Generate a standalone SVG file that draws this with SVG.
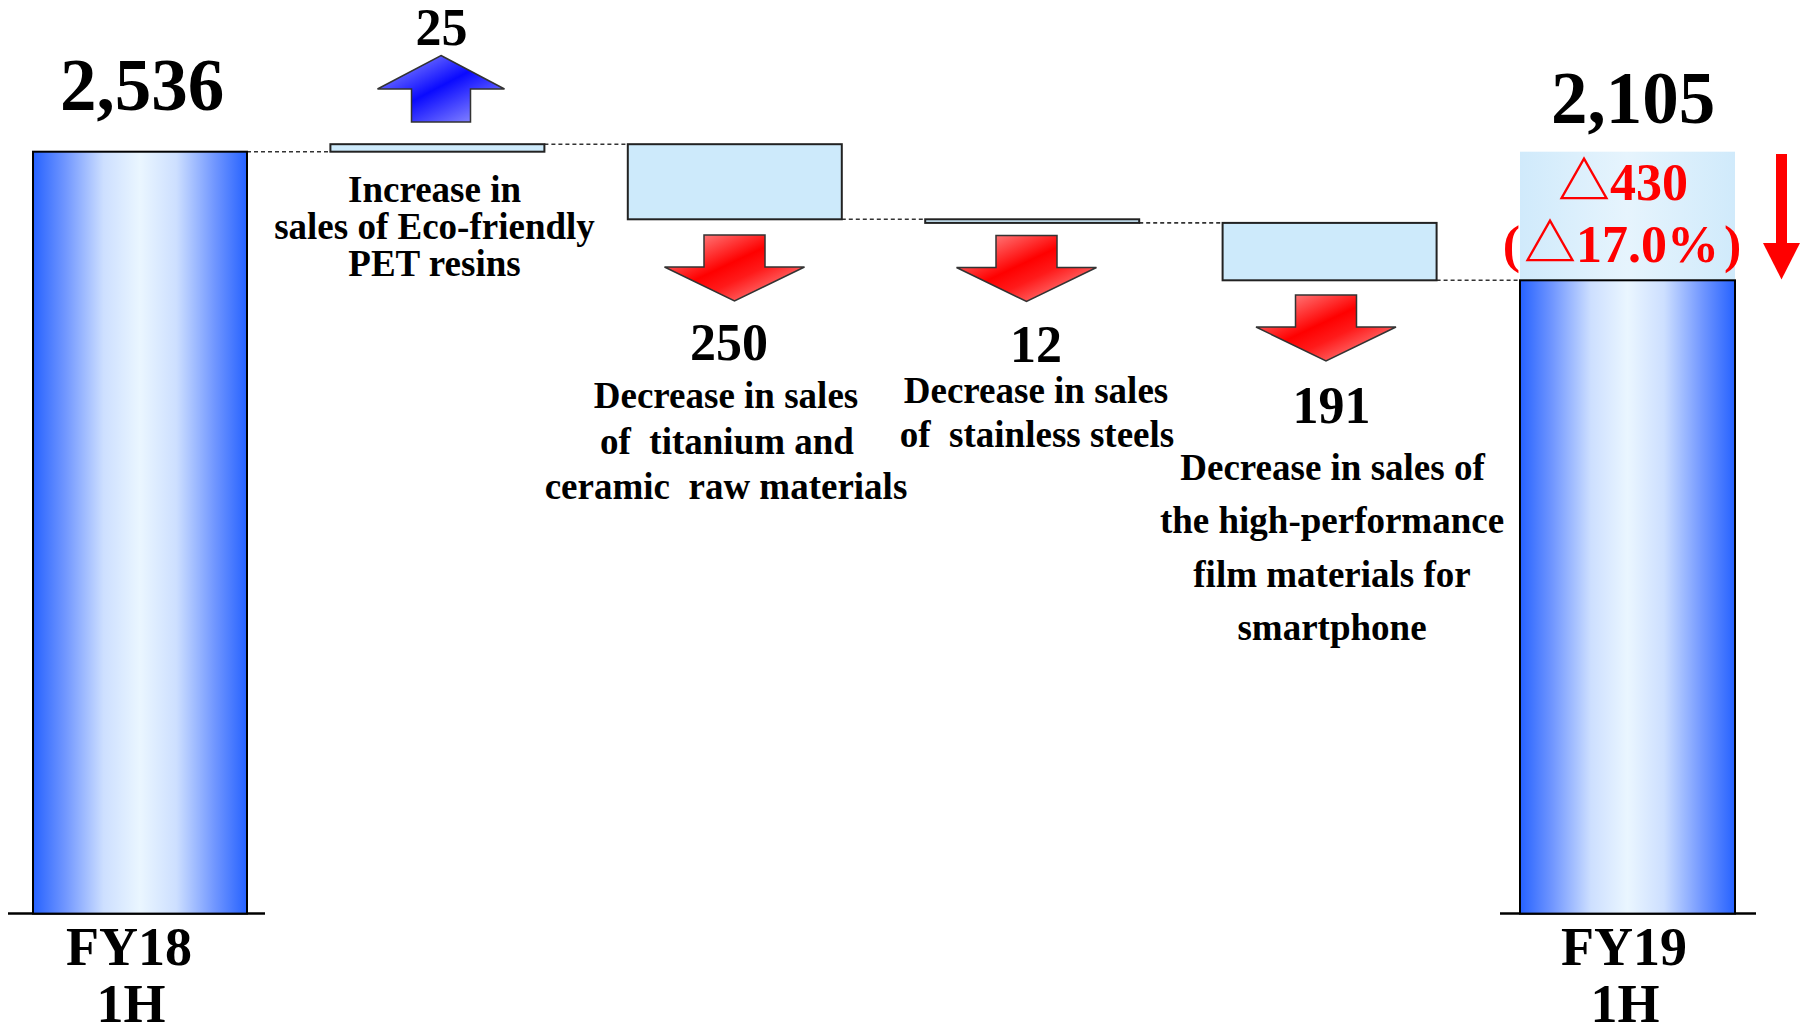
<svg xmlns="http://www.w3.org/2000/svg" width="1802" height="1033" viewBox="0 0 1802 1033">
<defs>
<linearGradient id="barGrad" x1="0" y1="0" x2="1" y2="0">
<stop offset="0" stop-color="#2662ff"/>
<stop offset="0.15" stop-color="#7096ff"/>
<stop offset="0.33" stop-color="#cddfff"/>
<stop offset="0.5" stop-color="#eaf6ff"/>
<stop offset="0.67" stop-color="#cddfff"/>
<stop offset="0.85" stop-color="#7096ff"/>
<stop offset="1" stop-color="#2662ff"/>
</linearGradient>
<linearGradient id="lightGrad" x1="0" y1="0" x2="1" y2="0">
<stop offset="0" stop-color="#d0eafb"/>
<stop offset="0.5" stop-color="#e6f4fd"/>
<stop offset="1" stop-color="#d0eafb"/>
</linearGradient>
<linearGradient id="redGrad" x1="0" y1="0" x2="1" y2="1">
<stop offset="0" stop-color="#ffa8a8"/>
<stop offset="0.45" stop-color="#ff0000"/>
<stop offset="0.6" stop-color="#ff1a1a"/>
<stop offset="1" stop-color="#ffb4b4"/>
</linearGradient>
<linearGradient id="blueGrad" x1="0" y1="0" x2="1" y2="1">
<stop offset="0" stop-color="#a8a8ff"/>
<stop offset="0.48" stop-color="#0a0aff"/>
<stop offset="1" stop-color="#a8a8ff"/>
</linearGradient>
<path id="downArrow" d="M-30.5,0 H30.5 V32 H70 L0,66 L-70,32 H-30.5 Z"/>
<path id="upArrow" d="M0,0 L63.5,33.5 H29.5 V66.5 H-29.5 V33.5 H-63.5 Z"/>
</defs>
<style>
text { font-family: "Liberation Serif", "Times New Roman", serif; font-weight: bold; fill: #000; text-anchor: middle; }
.big { font-size: 73px; }
.num { font-size: 52px; }
.desc { font-size: 37px; white-space: pre; }
.axis { font-size: 54px; }
.red { fill: #ff0000; font-size: 52px; font-family: "Liberation Serif", "Noto Sans CJK JP", serif; }
.bar { fill: url(#barGrad); stroke: #000; stroke-width: 2; }
.step { fill: #cdeafb; stroke: #222; stroke-width: 2; }
.dash { stroke: #333; stroke-width: 1.6; stroke-dasharray: 4 3; fill: none; }
.base { stroke: #000; stroke-width: 2.5; }
.redArrow { fill: url(#redGrad); stroke: #333; stroke-width: 1.5; }
.blueArrow { fill: url(#blueGrad); stroke: #333; stroke-width: 1.5; }
</style>
<rect width="1802" height="1033" fill="#ffffff"/>

<g id="connectors">
<line class="dash" x1="247" y1="151.7" x2="330.4" y2="151.7"/>
<line class="dash" x1="544.4" y1="144.2" x2="627.8" y2="144.2"/>
<line class="dash" x1="841.8" y1="219.3" x2="925.2" y2="219.3"/>
<line class="dash" x1="1139.2" y1="222.9" x2="1222.6" y2="222.9"/>
<line class="dash" x1="1436.6" y1="280.3" x2="1520" y2="280.3"/>
</g>

<g id="fy18">
<line class="base" x1="8" y1="913.6" x2="265" y2="913.6"/>
<rect class="bar" x="33" y="151.7" width="214" height="761.9"/>
<text class="big" x="142" y="110">2,536</text>
<text class="axis" x="129" y="965">FY18</text>
<text class="axis" x="131" y="1022">1H</text>
</g>

<g id="pet">
<rect class="step" x="330.4" y="144.2" width="214" height="7.5"/>
<use href="#upArrow" class="blueArrow" transform="translate(441,55.5)"/>
<text class="num" x="441.5" y="45">25</text>
<text class="desc" x="434.5" y="201.5">Increase in</text>
<text class="desc" x="434.5" y="239">sales of Eco-friendly</text>
<text class="desc" x="434.5" y="276">PET resins</text>
</g>

<g id="titanium">
<rect class="step" x="627.8" y="144.2" width="214" height="75.1"/>
<use href="#downArrow" class="redArrow" transform="translate(734.5,235)"/>
<text class="num" x="729" y="360">250</text>
<text class="desc" x="726" y="408">Decrease in sales</text>
<text class="desc" x="727" y="454">of  titanium and</text>
<text class="desc" x="726" y="499">ceramic  raw materials</text>
</g>

<g id="stainless">
<rect class="step" x="925.2" y="219.3" width="214" height="3.6"/>
<use href="#downArrow" class="redArrow" transform="translate(1026.5,235.5)"/>
<text class="num" x="1036" y="361.5">12</text>
<text class="desc" x="1036" y="403">Decrease in sales</text>
<text class="desc" x="1037" y="447">of  stainless steels</text>
</g>

<g id="film">
<rect class="step" x="1222.6" y="222.9" width="214" height="57.4"/>
<use href="#downArrow" class="redArrow" transform="translate(1326,295)"/>
<text class="num" x="1331.5" y="423">191</text>
<text class="desc" x="1332.5" y="479.5">Decrease in sales of</text>
<text class="desc" x="1332" y="533">the high-performance</text>
<text class="desc" x="1332" y="586.5">film materials for</text>
<text class="desc" x="1332" y="639.5">smartphone</text>
</g>

<g id="fy19">
<line class="base" x1="1500" y1="913.6" x2="1756" y2="913.6"/>
<rect x="1520" y="151.7" width="215" height="128.6" fill="url(#lightGrad)"/>
<rect class="bar" x="1520" y="280.3" width="215" height="633.3"/>
<text class="big" x="1633" y="123">2,105</text>
<text class="red" x="1623" y="200">△430</text>
<text class="red" x="1622" y="262"><tspan>(</tspan><tspan dx="4">△17.0%</tspan><tspan dx="5">)</tspan></text>
<rect x="1776" y="154" width="11" height="90" fill="#ff0000"/>
<polygon points="1763,243 1800,243 1781.5,279.5" fill="#ff0000"/>
<text class="axis" x="1624" y="965">FY19</text>
<text class="axis" x="1625" y="1022">1H</text>
</g>
</svg>
